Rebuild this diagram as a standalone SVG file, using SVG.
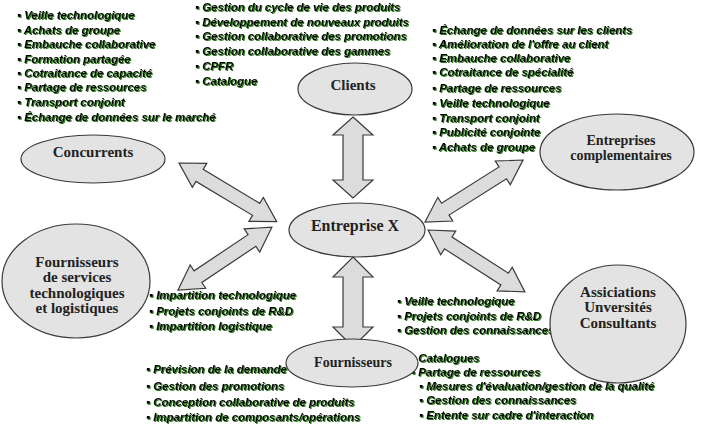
<svg xmlns="http://www.w3.org/2000/svg" width="701" height="425" viewBox="0 0 701 425">
<defs>
<filter id="gs" x="-5%" y="-20%" width="110%" height="140%">
<feFlood flood-color="#2e7d1e" result="c"/>
<feComposite in="c" in2="SourceAlpha" operator="in" result="s"/>
<feOffset in="s" dx="1" dy="1" result="o"/>
<feMerge><feMergeNode in="o"/><feMergeNode in="SourceGraphic"/></feMerge>
</filter>
</defs>
<style>
.t{font-family:"Liberation Sans",Arial,sans-serif;font-size:11.5px;font-weight:bold;font-style:italic;fill:#000;letter-spacing:-0.05px;filter:url(#gs)}
.n{fill:#e3e3e3;stroke:#3a3a3a;stroke-width:1.2}
.l{font-family:"Liberation Serif","Times New Roman",serif;font-weight:bold;fill:#222;text-anchor:middle}
.a{fill:#dcdcdc;stroke:#3a3a3a;stroke-width:1.2;stroke-linejoin:miter}
</style>
<rect width="701" height="425" fill="#fff"/>
<g id="annotations">
<g id="concurrents-list">
<text class="t" x="17" y="19">▪ Veille technologique</text>
<text class="t" x="17" y="34">▪ Achats de groupe</text>
<text class="t" x="17" y="48">▪ Embauche collaborative</text>
<text class="t" x="17" y="63">▪ Formation partagée</text>
<text class="t" x="17" y="77">▪ Cotraitance de capacité</text>
<text class="t" x="17" y="91">▪ Partage de ressources</text>
<text class="t" x="17" y="106">▪ Transport conjoint</text>
<text class="t" x="17" y="121">▪ Échange de données sur le marché</text>
</g>
<g id="clients-list">
<text class="t" x="195" y="11">▪ Gestion du cycle de vie des produits</text>
<text class="t" x="195" y="26">▪ Développement de nouveaux produits</text>
<text class="t" x="195" y="40">▪ Gestion collaborative des promotions</text>
<text class="t" x="195" y="55">▪ Gestion collaborative des gammes</text>
<text class="t" x="195" y="70">▪ CPFR</text>
<text class="t" x="195" y="85">▪ Catalogue</text>
</g>
<g id="complementaires-list">
<text class="t" x="432" y="34">▪ Échange de données sur les clients</text>
<text class="t" x="432" y="48">▪ Amélioration de l'offre au client</text>
<text class="t" x="432" y="62">▪ Embauche collaborative</text>
<text class="t" x="432" y="76">▪ Cotraitance de spécialité</text>
<text class="t" x="432" y="92">▪ Partage de ressources</text>
<text class="t" x="432" y="107">▪ Veille technologique</text>
<text class="t" x="432" y="122">▪ Transport conjoint</text>
<text class="t" x="432" y="136">▪ Publicité conjointe</text>
<text class="t" x="432" y="151">▪ Achats de groupe</text>
</g>
<g id="services-list">
<text class="t" x="149" y="299">▪ Impartition technologique</text>
<text class="t" x="149" y="315">▪ Projets conjoints de R&amp;D</text>
<text class="t" x="149" y="330">▪ Impartition logistique</text>
</g>
<g id="fournisseurs-list-left">
<text class="t" x="146" y="373">▪ Prévision de la demande</text>
<text class="t" x="146" y="390">▪ Gestion des promotions</text>
<text class="t" x="146" y="406">▪ Conception collaborative de produits</text>
<text class="t" x="146" y="421">▪ Impartition de composants/opérations</text>
</g>
<g id="associations-list">
<text class="t" x="397" y="305">▪ Veille technologique</text>
<text class="t" x="397" y="320">▪ Projets conjoints de R&amp;D</text>
<text class="t" x="397" y="334">▪ Gestion des connaissances</text>
</g>
<g id="fournisseurs-list-right">
<text class="t" x="411" y="362">▪ Catalogues</text>
<text class="t" x="411" y="376">▪ Partage de ressources</text>
<text class="t" x="419" y="390">▪ Mesures d'évaluation/gestion de la qualité</text>
<text class="t" x="419" y="404">▪ Gestion des connaissances</text>
<text class="t" x="419" y="419">▪ Entente sur cadre d'interaction</text>
</g>
</g>
<g id="connectors">
<path class="a" d="M0,0 L18,-20 L18,-10 L63,-10 L63,-20 L81,0 L63,20 L63,10 L18,10 L18,20 Z" transform="translate(353,117) rotate(90)"/>
<path class="a" d="M0,0 L20,-20 L20,-10 L70,-10 L70,-20 L90,0 L70,20 L70,10 L20,10 L20,20 Z" transform="translate(353,257) rotate(90)"/>
<path class="a" d="M0,0 L24,-14 L24,-7 L90,-7 L90,-14 L114,0 L90,14 L90,7 L24,7 L24,14 Z" transform="translate(179,163) rotate(31)"/>
<path class="a" d="M0,0 L24,-14 L24,-7 L89,-7 L89,-14 L113,0 L89,14 L89,7 L24,7 L24,14 Z" transform="translate(178,290) rotate(-33.8)"/>
<path class="a" d="M0,0 L24,-14 L24,-7 L92,-7 L92,-14 L116,0 L92,14 L92,7 L24,7 L24,14 Z" transform="translate(425,222) rotate(-32.3)"/>
<path class="a" d="M0,0 L24,-14 L24,-7 L91,-7 L91,-14 L115,0 L91,14 L91,7 L24,7 L24,14 Z" transform="translate(428,230) rotate(32.6)"/>
</g>
<g id="clients">
<ellipse class="n" cx="355" cy="89" rx="57" ry="26"/>
<text class="l" x="353" y="90" font-size="15">Clients</text>
</g>
<g id="entreprise-x">
<ellipse class="n" cx="357" cy="230" rx="68" ry="27"/>
<text class="l" x="355" y="231" font-size="16">Entreprise X</text>
</g>
<g id="concurrents">
<ellipse class="n" cx="93" cy="159" rx="72" ry="24"/>
<text class="l" x="93" y="157" font-size="15">Concurrents</text>
</g>
<g id="fournisseurs-services">
<ellipse class="n" cx="76" cy="281" rx="74" ry="57"/>
<text class="l" x="77" y="267" font-size="15">Fournisseurs</text>
<text class="l" x="77" y="282" font-size="15">de services</text>
<text class="l" x="77" y="298" font-size="15">technologiques</text>
<text class="l" x="77" y="313" font-size="15">et logistiques</text>
</g>
<g id="entreprises-complementaires">
<ellipse class="n" cx="617" cy="152" rx="77" ry="38"/>
<text class="l" x="621" y="145" font-size="14">Entreprises</text>
<text class="l" x="621" y="160" font-size="14">complementaires</text>
</g>
<g id="associations">
<ellipse class="n" cx="618" cy="324" rx="68" ry="59"/>
<text class="l" x="618" y="297" font-size="15">Assiciations</text>
<text class="l" x="618" y="312" font-size="15">Unversités</text>
<text class="l" x="618" y="328" font-size="15">Consultants</text>
</g>
<g id="fournisseurs">
<ellipse class="n" cx="352" cy="363" rx="66" ry="24"/>
<text class="l" x="353" y="367" font-size="14">Fournisseurs</text>
</g>
</svg>
